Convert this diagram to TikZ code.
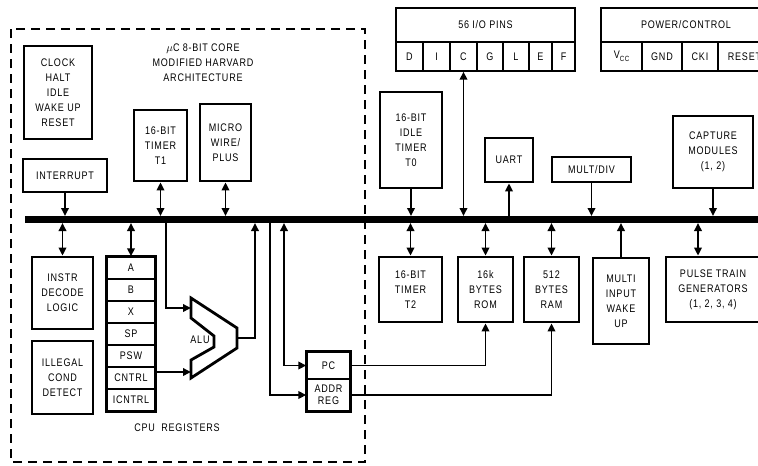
\documentclass[tikz,border=0pt]{standalone}
\usepackage{fontspec}
\setmainfont{Liberation Sans}[FakeStretch=0.82,LetterSpace=7]
\usetikzlibrary{arrows.meta,positioning}
\newcommand\boxfont{\fontsize{11}{15}\selectfont}
\tikzset{
  box/.style={draw, line width=2.8, align=center, inner sep=0pt, font=\boxfont},
  cell/.style={draw, line width=1.4, align=center, inner sep=0pt, font=\boxfont},
  conn/.style={line width=1.8},
  arr/.style={conn, -{Triangle[length=8pt,width=7.5pt]}},
  dbl/.style={conn, {Triangle[length=8pt,width=7.5pt]}-{Triangle[length=8pt,width=7.5pt]}},
}
\begin{document}
\begin{tikzpicture}[x=1pt, y=-1pt, font=\boxfont]
\useasboundingbox (0,0) rectangle (758,466);
% Core outline
\draw[line width=2.8, dash pattern=on 9pt off 6pt] (11,29) rectangle (365,462);
\node[align=center] (core) at (203,63) {$\mu$C 8-BIT CORE\\MODIFIED HARVARD\\ARCHITECTURE};
% Bus
\coordinate (busL) at (25,219.5);
\coordinate (busR) at (770,219.5);
\coordinate (bustop) at (0,216);
\coordinate (busbot) at (0,223);
\draw[line width=7] (busL) -- (busR);
% Blocks above the bus
\node[box, minimum width=68, minimum height=93] (clk) at (58,92.5) {CLOCK\\HALT\\IDLE\\WAKE UP\\RESET};
\node[box, minimum width=84, minimum height=33] (intr) at (65,175.5) {INTERRUPT};
\node[box, minimum width=53, minimum height=71] (tone) at (160.5,145.5) {16-BIT\\TIMER\\T1};
\node[box, minimum width=51, minimum height=77] (mwire) at (225.5,142.5) {MICRO\\WIRE/\\PLUS};
\node[box, minimum width=62, minimum height=96] (tzero) at (411,140) {16-BIT\\IDLE\\TIMER\\T0};
\node[box, minimum width=48, minimum height=44] (uart) at (509,160) {UART};
\node[box, minimum width=79, minimum height=25] (mult) at (591.5,169.5) {MULT/DIV};
\node[box, minimum width=80, minimum height=72] (capt) at (713,152) {CAPTURE\\MODULES\\(1, 2)};
% I/O pins
\node[cell, draw=none, minimum width=179, minimum height=34] (iohdr) at (485.5,25) {56 I/O PINS};
\foreach \p/\c/\w in {D/409.5/27, I/436.5/27, C/463.5/27, G/490/26, L/516/26, E/540.5/23, F/563.5/23}
  \node[cell, minimum width=\w, minimum height=29] (io\p) at (\c,56.5) {\p};
\draw[line width=2.8] (396,8) rectangle (575,71);
% Power / control
\node[cell, draw=none, minimum width=170, minimum height=34] (pwrhdr) at (686,25) {POWER/CONTROL};
\foreach \p/\t/\c/\w in {vcc/{V\raisebox{-2.5pt}{\fontsize{7.5}{8}\selectfont CC}}/621.5/41, gnd/GND/662/40, cki/CKI/700/36, rst/RESET/744.5/53}
  \node[cell, minimum width=\w, minimum height=29] (pwr\p) at (\c,56.5) {\t};
\draw[line width=2.8] (601,8) rectangle (771,71);
% Blocks below the bus
\node[box, minimum width=61, minimum height=72] (instr) at (62.5,293) {INSTR\\DECODE\\LOGIC};
\node[box, minimum width=61, minimum height=73] (illeg) at (62.5,377.5) {ILLEGAL\\COND\\DETECT};
\foreach \r [count=\i from 0] in {A,B,X,SP,PSW,CNTRL,ICNTRL}
  \node[cell, minimum width=48, minimum height=22] (reg\r) at (131,{268+22*\i}) {\r};
\draw[line width=2.8] (regA.north west) rectangle (regICNTRL.south east);
\node (cpuregs) at (177,428) {CPU \ REGISTERS};
% ALU
\draw[line width=2.8, line join=miter] (191,298) -- (237,328) -- (237,348) -- (191,378)
  -- (191,360) -- (214,347) -- (214,336) -- (191,318) -- cycle;
\node (alu) at (200,340) {ALU};
\coordinate (aluin1) at (191,308);
\coordinate (aluin2) at (191,372);
\coordinate (aluout) at (237,338);
% PC / address register
\node[cell, minimum width=43, minimum height=27] (pc) at (328.5,365.5) {PC};
\node[cell, minimum width=43, minimum height=32, font=\fontsize{11}{11.5}\selectfont] (addr) at (328.5,395) {ADDR\\REG};
\draw[line width=2.8] (pc.north west) rectangle (addr.south east);
\node[box, minimum width=63, minimum height=65] (ttwo) at (410.5,289.5) {16-BIT\\TIMER\\T2};
\node[box, minimum width=55, minimum height=65] (rom) at (485.5,289.5) {16k\\BYTES\\ROM};
\node[box, minimum width=55, minimum height=65] (ram) at (551.5,289.5) {512\\BYTES\\RAM};
\node[box, minimum width=56, minimum height=86] (miwu) at (621,301) {MULTI\\INPUT\\WAKE\\UP};
\node[box, minimum width=94, minimum height=65] (ptg) at (713,289.5) {PULSE TRAIN\\GENERATORS\\(1, 2, 3, 4)};
% Connections to the bus
\draw[arr] (intr.south) -- (intr.south |- bustop);
\draw[dbl] (tone.south) -- (tone.south |- bustop);
\draw[dbl] (mwire.south) -- (mwire.south |- bustop);
\draw[arr] (tzero.south) -- (tzero.south |- bustop);
\draw[dbl] (ioC.south) -- (ioC.south |- bustop);
\draw[arr] (uart.south |- bustop) -- (uart.south);
\draw[arr] (mult.south) -- (mult.south |- bustop);
\draw[arr] (capt.south) -- (capt.south |- bustop);
\draw[dbl] (instr.north) -- (instr.north |- busbot);
\draw[dbl] (regA.north) -- (regA.north |- busbot);
\draw[dbl] (ttwo.north) -- (ttwo.north |- busbot);
\draw[dbl] (rom.north) -- (rom.north |- busbot);
\draw[dbl] (ram.north) -- (ram.north |- busbot);
\draw[arr] (miwu.north) -- (miwu.north |- busbot);
\draw[dbl] ([xshift=-15pt]ptg.north) -- ([xshift=-15pt]ptg.north |- busbot);
% Data paths
\coordinate (tapalu) at (166,223);
\coordinate (tapout) at (255,223);
\coordinate (tapaddr) at (270,223);
\coordinate (tappc) at (284,223);
\draw[arr] (tapalu) |- (aluin1);
\draw[arr] (regCNTRL.east |- aluin2) -- (aluin2);
\draw[arr] (aluout) -| (tapout);
\draw[arr] (tapaddr) |- (addr.west);
\draw[dbl] (tappc) |- (pc.west);
\draw[arr] (pc.east) -| (rom.south);
\draw[arr] (addr.east) -| (ram.south);
\end{tikzpicture}
\end{document}
